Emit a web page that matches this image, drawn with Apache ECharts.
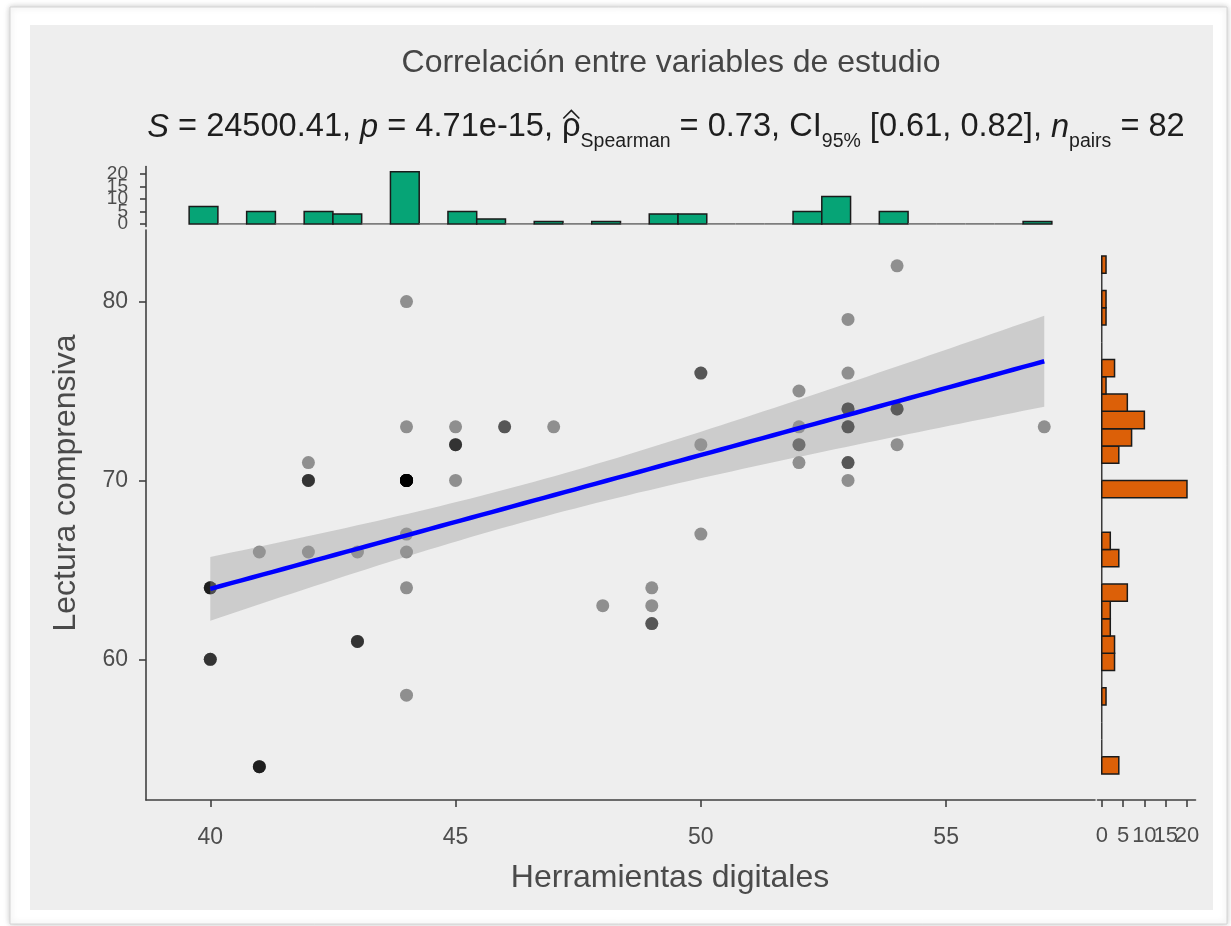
<!DOCTYPE html>
<html><head><meta charset="utf-8">
<script src="https://cdn.jsdelivr.net/npm/echarts@6/dist/echarts.min.js"></script>
<style>html,body{margin:0;padding:0;background:#fff;}#c{width:1231px;height:926px;}</style>
</head><body><div id="c"></div>
<script>
// ---- data (unique points and how many times each occurs) ----
const herramientas = [40,40,41,41,42,42,42,43,43,44,44,44,44,44,44,44,45,45,45,46,47,48,49,49,49,50,50,50,52,52,52,52,53,53,53,53,53,53,54,54,54,57];
const lectura      = [64,60,66,54,71,70,66,66,61,80,73,70,67,66,64,58,73,72,70,73,73,63,64,63,62,76,72,67,75,73,72,71,79,76,74,73,71,70,82,74,72,73];
const repeticiones = [ 4, 3, 1, 4, 1, 3, 1, 1, 3, 1, 1,15, 1, 1, 1, 1, 1, 3, 1, 2, 1, 1, 1, 1, 2, 2, 1, 1, 1, 1, 2, 1, 1, 1, 3, 3, 2, 1, 1, 3, 1, 1];
const xTicks = [40,45,50,55];
const yTicks = [60,70,80];
const countTicks = [0,5,10,15,20];
const titleText = 'Correlación entre variables de estudio';
const xTitle = 'Herramientas digitales';
const yTitle = 'Lectura comprensiva';
const statsS = '24500.41', statsP = '4.71e-15', statsRho = '0.73', statsCI = '[0.61, 0.82]', statsN = '82';

// ---- expand points ----
const xs = [], ys = [];
herramientas.forEach((x, i) => { for (let k = 0; k < repeticiones[i]; k++) { xs.push(x); ys.push(lectura[i]); } });

// ---- ggplot2-style histogram bins (bins = 30, right closed) ----
function ggBins(vals, bins) {
  const lo = Math.min(...vals), hi = Math.max(...vals);
  const w = (hi - lo) / (bins - 1), b = w / 2;
  const origin = b + Math.floor((lo - b) / w) * w;
  const edges = [];
  for (let e = origin; e <= hi + (1 - 1e-8) * w; e += w) edges.push(e);
  if (edges.length > 1 && edges[edges.length - 2] >= hi) edges.pop();
  const counts = new Array(edges.length - 1).fill(0);
  const fuzz = 1e-8 * w;
  vals.forEach(v => { let k = Math.ceil((v - origin - fuzz) / w) - 1; if (k < 0) k = 0; counts[k]++; });
  return counts.map((c, k) => [edges[k], edges[k + 1], c]);
}
const xBins = ggBins(xs, 30), yBins = ggBins(ys, 30);
function expandRange(lo, hi) { const d = (hi - lo) * 0.05; return [lo - d, hi + d]; }
const xR = expandRange(Math.min(xBins[0][0], 40), xBins[xBins.length - 1][1]);
const yR = expandRange(yBins[0][0], yBins[yBins.length - 1][1]);
const xCountMax = Math.max(...xBins.map(b => b[2])), yCountMax = Math.max(...yBins.map(b => b[2]));

// ---- linear fit with 95% CI ----
const n = xs.length;
const mx = xs.reduce((a, b) => a + b, 0) / n, my = ys.reduce((a, b) => a + b, 0) / n;
let sxx = 0, sxy = 0;
for (let i = 0; i < n; i++) { sxx += (xs[i] - mx) ** 2; sxy += (xs[i] - mx) * (ys[i] - my); }
const slope = sxy / sxx, icpt = my - slope * mx;
let sse = 0; for (let i = 0; i < n; i++) sse += (ys[i] - icpt - slope * xs[i]) ** 2;
const s2 = sse / (n - 2), tq = 1.990;
const xLo = Math.min(...xs), xHi = Math.max(...xs);
const fitPts = [], upper = [], lower = [];
for (let i = 0; i <= 80; i++) {
  const x = xLo + (xHi - xLo) * i / 80, yh = icpt + slope * x;
  const se = Math.sqrt(s2 * (1 / n + (x - mx) ** 2 / sxx));
  fitPts.push([x, yh]); upper.push([x, yh + tq * se]); lower.push([x, yh - tq * se]);
}

// ---- subtitle layout (measured so the hat can sit over rho) ----
const FONT = "'Liberation Sans', Arial, sans-serif";
const MAIN = 32.6, SUB = 19.5;
const segs = [
  ['it', 'S'], ['m', ' = ' + statsS + ', '], ['it', 'p'], ['m', ' = ' + statsP + ', '], ['rho', 'ρ'],
  ['sub', 'Spearman'], ['m', ' = ' + statsRho + ', CI'], ['sub', '95%'], ['m', ' ' + statsCI + ', '],
  ['it', 'n'], ['sub', 'pairs'], ['m', ' = ' + statsN]
];
const mctx = document.createElement('canvas').getContext('2d');
function segFont(k) { return (k === 'it' ? 'italic ' : '') + (k === 'sub' ? SUB : MAIN) + 'px ' + FONT; }
const segW = segs.map(s => { mctx.font = segFont(s[0]); return mctx.measureText(s[1]).width; });
const subW = segW.reduce((a, b) => a + b, 0);
const subCenter = 666, subStart = subCenter - subW / 2;
const rhoIdx = segs.findIndex(s => s[0] === 'rho');
const rhoX = subStart + segW.slice(0, rhoIdx).reduce((a, b) => a + b, 0) + segW[rhoIdx] / 2;
const subY = 130;
const baseY = subY + 9.5;

const axisCol = '#404040', labelCol = '#4d4d4d';
const lineStyle = { color: axisCol, width: 1.6 };
const lab = (extra) => Object.assign({ fontSize: 23, color: labelCol, fontFamily: FONT, hideOverlap: false, showMinLabel: true, showMaxLabel: true }, extra);
const richBase = { fontFamily: FONT, fill: '#1e1e1e', verticalAlign: 'top' };

const chart = echarts.init(document.getElementById('c'));
chart.setOption({
  animation: false,
  textStyle: { fontFamily: FONT },
  graphic: [
    { id: 'frame', type: 'rect', z: -100, shape: { x: 10, y: 7, width: 1217, height: 917 },
      style: { fill: '#ffffff', stroke: '#d4d4d4', lineWidth: 1, shadowBlur: 6, shadowColor: 'rgba(0,0,0,0.22)' } },
    { id: 'panel', type: 'rect', z: -99, shape: { x: 30, y: 25, width: 1183, height: 885 }, style: { fill: '#eeeeee' } },
    { id: 'title', type: 'text', z: 100, x: 671, y: 63, style: { text: titleText, fontSize: 32, fontFamily: FONT, fill: '#454545', textAlign: 'center', textVerticalAlign: 'middle' } },
    { id: 'subtitle', type: 'text', z: 100, x: subStart, y: subY, style: {
        text: segs.map(s => '{' + s[0] + '|' + s[1] + '}').join(''),
        textAlign: 'left', textVerticalAlign: 'middle', fill: '#1e1e1e', fontSize: MAIN, fontFamily: FONT,
        rich: {
          m: Object.assign({ fontSize: MAIN, lineHeight: 38 }, richBase),
          rho: Object.assign({ fontSize: MAIN, lineHeight: 38 }, richBase),
          it: Object.assign({ fontSize: MAIN, fontStyle: 'italic', lineHeight: 38 }, richBase),
          sub: Object.assign({ fontSize: SUB, lineHeight: 20, padding: [21, 0, 0, 0] }, richBase)
        } } },
    { id: 'hat', type: 'polyline', z: 100, shape: { points: [[rhoX - 8, baseY - 21], [rhoX, baseY - 29], [rhoX + 8, baseY - 21]] },
      style: { stroke: '#1e1e1e', lineWidth: 1.6, fill: 'none' } },
    { id: 'xtitle', type: 'text', z: 100, x: 670, y: 878, style: { text: xTitle, fontSize: 32, fontFamily: FONT, fill: '#4a4a4a', textAlign: 'center', textVerticalAlign: 'middle' } },
    { id: 'ytitle', type: 'text', z: 100, x: 66, y: 483, rotation: Math.PI / 2, style: { text: yTitle, fontSize: 32, fontFamily: FONT, fill: '#4a4a4a', textAlign: 'center', textVerticalAlign: 'middle' } }
  ],
  grid: [
    { left: 146, top: 230, width: 949, height: 570, outerBoundsMode: 'none' },
    { left: 146, top: 166.5, width: 949, height: 60, outerBoundsMode: 'none' },
    { left: 1097.5, top: 230, width: 98, height: 570, outerBoundsMode: 'none' }
  ],
  xAxis: [
    { gridIndex: 0, type: 'value', min: xR[0], max: xR[1], splitLine: { show: false },
      axisLine: { show: true, onZero: false, lineStyle }, axisTick: { show: true, customValues: xTicks, length: 7, lineStyle },
      axisLabel: lab({ customValues: xTicks, margin: 26 }) },
    { gridIndex: 1, type: 'value', min: xR[0], max: xR[1], show: false },
    { gridIndex: 2, type: 'value', min: -0.05 * yCountMax, max: yCountMax * 1.1, splitLine: { show: false },
      axisLine: { show: true, onZero: false, lineStyle }, axisTick: { show: true, customValues: countTicks, length: 7, lineStyle },
      axisLabel: { show: false } }
  ],
  yAxis: [
    { gridIndex: 0, type: 'value', min: yR[0], max: yR[1], splitLine: { show: false },
      axisLine: { show: true, onZero: false, lineStyle }, axisTick: { show: true, customValues: yTicks, length: 7, lineStyle },
      axisLabel: lab({ customValues: yTicks, margin: 18 }) },
    { gridIndex: 1, type: 'value', min: -0.05 * xCountMax, max: xCountMax * 1.1, splitLine: { show: false },
      axisLine: { show: true, onZero: false, lineStyle }, axisTick: { show: true, customValues: countTicks, length: 6, lineStyle },
      axisLabel: { show: false } },
    { gridIndex: 2, type: 'value', min: yR[0], max: yR[1], show: false }
  ],
  series: [
    { type: 'scatter', xAxisIndex: 0, yAxisIndex: 0, z: 2, silent: true,
      data: xs.map((x, i) => [x, ys[i]]), symbolSize: 13, itemStyle: { color: '#000', opacity: 0.4 } },
    { type: 'custom', xAxisIndex: 0, yAxisIndex: 0, z: 3, silent: true, data: [[mx, my]],
      renderItem: (p, api) => {
        const pts = upper.map(q => api.coord(q)).concat(lower.slice().reverse().map(q => api.coord(q)));
        return { type: 'polygon', shape: { points: pts }, style: { fill: 'rgba(153,153,153,0.4)' } };
      } },
    { type: 'line', xAxisIndex: 0, yAxisIndex: 0, z: 4, silent: true, data: fitPts, showSymbol: false,
      lineStyle: { color: '#0000ff', width: 4.5 } },
    { type: 'custom', xAxisIndex: 1, yAxisIndex: 1, z: 2, silent: true, data: xBins, encode: { x: [0, 1], y: 2 },
      renderItem: (p, api) => {
        const c = api.value(2);
        const a = api.coord([api.value(0), 0]), b = api.coord([api.value(1), c]);
        if (c === 0) return { type: 'line', shape: { x1: a[0], y1: a[1], x2: b[0], y2: a[1] }, style: { stroke: '#6a6a6a', lineWidth: 1.5 } };
        return { type: 'rect', shape: { x: a[0], y: b[1], width: b[0] - a[0], height: a[1] - b[1] },
          style: { fill: '#06A476', stroke: '#1a1a1a', lineWidth: 1.5 } };
      } },
    { type: 'custom', xAxisIndex: 2, yAxisIndex: 2, z: 2, silent: true, data: yBins, encode: { y: [0, 1], x: 2 },
      renderItem: (p, api) => {
        const c = api.value(2);
        const a = api.coord([0, api.value(0)]), b = api.coord([c, api.value(1)]);
        if (c === 0) return { type: 'line', shape: { x1: a[0], y1: a[1], x2: a[0], y2: b[1] }, style: { stroke: '#3a3a3a', lineWidth: 1.5 } };
        return { type: 'rect', shape: { x: a[0], y: b[1], width: b[0] - a[0], height: a[1] - b[1] },
          style: { fill: '#DC6008', stroke: '#1a1a1a', lineWidth: 1.5 } };
      } }
  ]
});

// crowded count labels of the marginal panels (placed through the axes' own scales, overlap allowed)
const extra = [];
countTicks.forEach((v, i) => {
  const py = chart.convertToPixel({ yAxisIndex: 1 }, v);
  extra.push({ id: 'topLab' + i, type: 'text', z: 100, x: 128, y: py,
    style: { text: String(v), fontSize: 19, fontFamily: FONT, fill: labelCol, textAlign: 'right', textVerticalAlign: 'middle' } });
  const px = chart.convertToPixel({ xAxisIndex: 2 }, v);
  extra.push({ id: 'rightLab' + i, type: 'text', z: 100, x: px, y: 836,
    style: { text: String(v), fontSize: 22, fontFamily: FONT, fill: labelCol, textAlign: 'center', textVerticalAlign: 'middle' } });
});
chart.setOption({ graphic: extra });
</script></body></html>
